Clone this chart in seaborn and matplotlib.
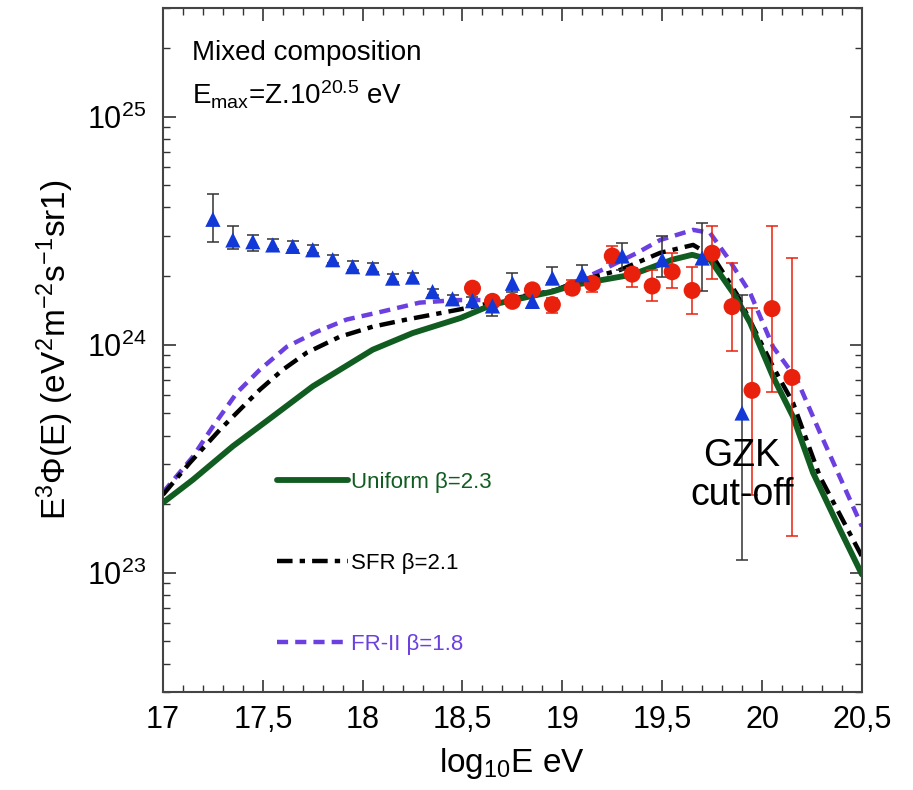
import numpy as np
import matplotlib
matplotlib.use("Agg")
import matplotlib.pyplot as plt
import seaborn as sns

# ---- data (log10 E, flux in units of 1e24 eV^2 m^-2 s^-1 sr^-1) ----
blue_x = [17.25, 17.35, 17.45, 17.55, 17.65, 17.75, 17.85, 17.95, 18.05, 18.15, 18.25, 18.35,
          18.45, 18.55, 18.65, 18.75, 18.85, 18.95, 19.1, 19.3, 19.5, 19.7, 19.9]
blue_y = [3.55, 2.88, 2.83, 2.74, 2.70, 2.61, 2.36, 2.20, 2.17, 1.96, 1.98, 1.71,
          1.59, 1.56, 1.48, 1.86, 1.55, 1.96, 2.03, 2.45, 2.36, 2.40, 0.502]
blue_hi = [4.59, 3.32, 3.03, 2.90, 2.85, 2.74, 2.48, 2.32, 2.28, 2.05, 2.07, 1.76,
           1.66, 1.62, 1.57, 2.07, 1.63, 2.20, 2.24, 2.79, 3.00, 3.41, 1.66]
blue_lo = [2.83, 2.63, 2.58, 2.64, 2.61, 2.53, 2.28, 2.13, 2.09, 1.89, 1.89, 1.66,
           1.53, 1.50, 1.34, 1.71, 1.45, 1.87, 1.87, 2.13, 1.99, 1.72, 0.114]

red_x = [18.55, 18.65, 18.75, 18.85, 18.95, 19.05, 19.15, 19.25, 19.35, 19.45, 19.55, 19.65,
         19.75, 19.85, 19.95, 20.05, 20.15]
red_y = [1.77, 1.55, 1.55, 1.74, 1.50, 1.77, 1.86, 2.45, 2.04, 1.81, 2.09, 1.73,
         2.52, 1.47, 0.631, 1.44, 0.719]
red_hi = [1.83, 1.60, 1.60, 1.80, 1.60, 1.93, 1.96, 2.70, 2.17, 2.13, 2.53, 2.20,
          3.32, 2.29, 1.45, 3.32, 2.40]
red_lo = [1.71, 1.50, 1.50, 1.68, 1.38, 1.67, 1.71, 2.28, 1.80, 1.56, 1.78, 1.37,
          1.95, 0.935, 0.220, 0.623, 0.1446]

uni_x = [17.0, 17.15, 17.35, 17.55, 17.75, 18.05, 18.25, 18.49, 18.65, 18.95, 19.05, 19.15,
         19.35, 19.55, 19.65, 19.74, 19.855, 19.94, 20.055, 20.155, 20.255, 20.39, 20.5]
uni_y = [0.203, 0.256, 0.359, 0.485, 0.657, 0.951, 1.125, 1.31, 1.50, 1.71, 1.82, 1.89,
         2.03, 2.36, 2.48, 2.36, 1.69, 1.25, 0.724, 0.484, 0.275, 0.155, 0.0984]

sfr_x = [17.0, 17.135, 17.285, 17.485, 17.6, 17.72, 17.885, 18.05, 18.22, 18.47, 18.67, 18.97,
         19.07, 19.29, 19.49, 19.655, 19.755, 19.875, 19.955, 20.055, 20.155, 20.29, 20.5]
sfr_y = [0.220, 0.304, 0.424, 0.635, 0.777, 0.923, 1.084, 1.20, 1.29, 1.42, 1.54, 1.74,
         1.89, 2.13, 2.53, 2.74, 2.43, 1.66, 1.20, 0.801, 0.557, 0.264, 0.118]

fr2_x = [17.0, 17.15, 17.25, 17.37, 17.485, 17.62, 17.77, 17.92, 18.085, 18.285, 18.47, 18.65,
         18.95, 19.07, 19.22, 19.375, 19.49, 19.655, 19.74, 19.825, 19.94, 20.055, 20.175, 20.29, 20.5]
fr2_y = [0.225, 0.323, 0.438, 0.616, 0.777, 0.980, 1.14, 1.29, 1.39, 1.53, 1.57, 1.57,
         1.71, 1.89, 2.17, 2.53, 2.88, 3.19, 3.09, 2.43, 1.69, 0.980, 0.703, 0.412, 0.160]

x_ticks = [17, 17.5, 18, 18.5, 19, 19.5, 20, 20.5]
x_ticklabels = ["17", "17,5", "18", "18,5", "19", "19,5", "20", "20,5"]

scale = 1e24

sns.set_style("ticks")
plt.rcParams['font.family'] = ['Liberation Sans', 'DejaVu Sans']
plt.rcParams['mathtext.fontset'] = 'custom'
plt.rcParams['mathtext.rm'] = 'Liberation Sans'
plt.rcParams['mathtext.it'] = 'Liberation Sans:italic'
plt.rcParams['mathtext.default'] = 'regular'
plt.rcParams['text.color'] = 'black'
plt.rcParams['axes.labelcolor'] = 'black'

fig = plt.figure(figsize=(9.13, 7.9), dpi=100)
ax = fig.add_axes([0.1785, 0.124, 0.7655, 0.866])

green = "#115c20"
purple = "#6b3fe0"

l_fr2 = sns.lineplot(x=fr2_x, y=np.array(fr2_y) * scale, ax=ax, color=purple, lw=3.2,
                     linestyle=(0, (2.5, 1.6)), sort=False, label="FR-II β=1.8")
l_sfr = sns.lineplot(x=sfr_x, y=np.array(sfr_y) * scale, ax=ax, color="black", lw=3.2,
                     linestyle=(0, (3.5, 1.6, 1.2, 1.6)), sort=False, label="SFR β=2.1")
l_uni = sns.lineplot(x=uni_x, y=np.array(uni_y) * scale, ax=ax, color=green, lw=4.2,
                     sort=False, label="Uniform β=2.3")

# error bars
by = np.array(blue_y) * scale
ax.errorbar(blue_x, by, yerr=[by - np.array(blue_lo) * scale, np.array(blue_hi) * scale - by],
            fmt='none', ecolor="#333333", elinewidth=1.1, capsize=4, capthick=1.1, zorder=4)
ry = np.array(red_y) * scale
ax.errorbar(red_x, ry, yerr=[ry - np.array(red_lo) * scale, np.array(red_hi) * scale - ry],
            fmt='none', ecolor="#e8200c", elinewidth=1.1, capsize=4, capthick=1.1, zorder=4)

sns.scatterplot(x=red_x, y=ry, ax=ax, marker='o', s=150, color="#e8200c", edgecolor="none",
                zorder=5, legend=False)
sns.scatterplot(x=blue_x, y=by, ax=ax, marker='^', s=120, color="#1238d8", edgecolor="none",
                zorder=6, legend=False)

ax.set_yscale('log')
ax.set_xlim(17, 20.5)
ax.set_ylim(3e22, 3e25)

ax.set_xticks(x_ticks)
ax.set_xticklabels(x_ticklabels)
ax.xaxis.set_minor_locator(matplotlib.ticker.MultipleLocator(0.1))
ax.tick_params(axis='both', which='both', direction='in', top=True, right=True,
               colors="#333333", labelcolor="black", labelsize=22)
ax.tick_params(axis='both', which='major', length=9, width=1.2)
ax.tick_params(axis='both', which='minor', length=5, width=1.0)
ax.tick_params(axis='x', which='major', pad=9)
ax.tick_params(axis='y', which='major', pad=12)
ax.yaxis.set_minor_formatter(matplotlib.ticker.NullFormatter())
for sp in ax.spines.values():
    sp.set_color("#444444")
    sp.set_linewidth(1.5)

ax.set_xlabel("log$_{10}$E eV", fontsize=24, labelpad=8)
ax.set_ylabel("E$^3$Φ(E) (eV$^2$m$^{-2}$s$^{-1}$sr1)", fontsize=24, labelpad=8)

ax.text(0.0415, 0.934, "Mixed composition", transform=ax.transAxes, fontsize=20,
        ha='left', va='center', color='black')
ax.text(0.0415, 0.873, "E$_{max}$=Z.10$^{20.5}$ eV", transform=ax.transAxes, fontsize=20,
        ha='left', va='center', color='black')
ax.text(19.9, 2.67e23, "GZK\ncut-off", fontsize=27, ha='center', va='center',
        linespacing=1.1, zorder=7, color='black')

ax.legend(handles=[l_uni.lines[2], l_sfr.lines[1], l_fr2.lines[0]],
          labels=["Uniform β=2.3", "SFR β=2.1", "FR-II β=1.8"],
          loc='upper left', bbox_to_anchor=(0.15, 0.335), frameon=False, fontsize=16,
          labelspacing=2.7, handlelength=3.2, handletextpad=0.15, labelcolor='linecolor',
          borderaxespad=0)

fig.savefig("out.png", dpi=100)
